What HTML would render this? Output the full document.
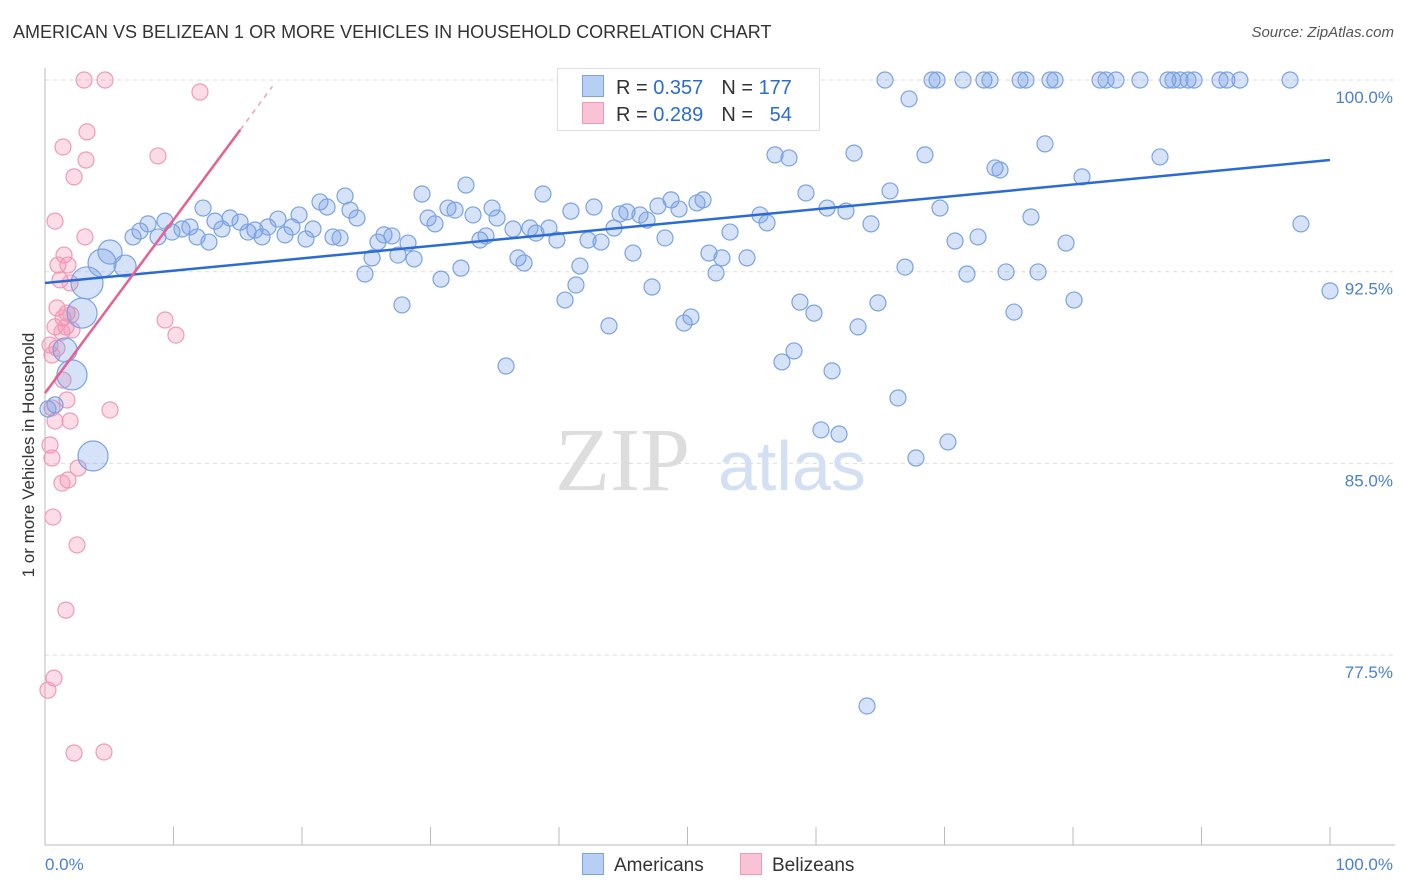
<!DOCTYPE html>
<html><head><meta charset="utf-8"><style>
body{margin:0;background:#fff;font-family:"Liberation Sans",sans-serif;}
#wrap{position:relative;width:1406px;height:892px;overflow:hidden;}
.t{position:absolute;white-space:nowrap;}
</style></head><body>
<div id="wrap">
<div class="t" style="left:13px;top:22px;font-size:18px;color:#333;">AMERICAN VS BELIZEAN 1 OR MORE VEHICLES IN HOUSEHOLD CORRELATION CHART</div>
<div class="t" style="right:12px;top:24px;font-size:15px;color:#555;font-style:italic;">Source: ZipAtlas.com</div>
<svg id="plot" width="1406" height="892" style="position:absolute;left:0;top:0"></svg>
</div>
<script>
const yTicks=[100,92.5,85,77.5];
const yTickLabels=["100.0%","92.5%","85.0%","77.5%"];
const xTickLabels=["0.0%","100.0%"];
const amerX=[3.27,2.88,2.10,3.74,1.56,4.44,5.06,6.23,6.85,7.39,8.02,8.79,9.34,9.88,10.66,11.28,11.83,12.30,12.76,13.23,13.77,14.40,15.18,15.80,16.34,16.89,17.35,18.13,18.68,19.22,19.77,20.31,20.86,21.40,21.95,22.41,22.96,23.35,23.74,24.28,24.90,25.45,25.91,26.38,27.00,27.47,27.78,28.25,28.72,29.34,29.81,30.35,30.82,31.36,31.91,32.37,32.76,33.31,33.85,34.32,34.79,35.18,35.88,36.42,36.81,37.28,37.74,38.21,38.75,39.22,39.84,40.47,40.93,41.32,41.63,42.26,42.72,43.27,43.89,44.28,44.75,45.29,45.76,46.30,46.85,47.24,47.70,48.25,48.72,49.34,49.73,50.27,50.74,51.21,51.67,52.22,52.68,53.31,53.85,54.24,54.63,55.25,55.64,56.19,56.81,57.35,57.90,58.29,58.75,59.22,59.84,60.39,60.86,61.25,61.79,62.33,62.96,63.27,63.97,64.28,64.82,65.37,65.76,66.38,66.93,67.24,67.78,68.48,69.03,69.42,69.65,70.27,70.82,71.44,71.75,72.61,73.07,73.54,73.93,74.32,74.79,75.41,75.88,76.34,76.73,77.28,77.82,78.21,78.60,79.46,80.08,80.70,82.10,82.57,83.35,85.21,86.77,87.39,87.78,88.33,88.95,89.42,91.44,91.98,92.99,96.89,97.74,100,0.78,0.23];
const amerY=[92.06,90.88,88.46,85.29,89.44,92.84,93.27,92.72,93.86,94.09,94.37,93.86,94.48,94.05,94.17,94.25,93.86,94.99,93.66,94.48,94.17,94.60,94.44,94.05,94.13,93.86,94.25,94.56,93.94,94.25,94.72,93.78,94.17,95.23,95.03,93.86,93.82,95.46,94.91,94.60,92.41,93.04,93.66,93.94,93.90,93.15,91.20,93.62,93.00,95.54,94.60,94.37,92.21,94.99,94.91,92.64,95.89,94.72,93.74,93.90,94.99,94.60,88.81,94.17,93.04,92.84,94.21,94.01,95.54,94.21,93.74,91.39,94.87,91.98,92.72,93.74,95.03,93.66,90.38,94.21,94.76,94.84,93.23,94.72,94.52,91.90,95.07,93.82,95.31,94.95,90.49,90.73,95.19,95.31,93.23,92.45,93.04,94.05,99.45,98.44,93.04,99.49,94.72,94.41,97.07,88.97,96.95,89.40,91.31,95.58,90.88,86.31,94.99,88.62,86.15,94.87,97.14,90.34,75.51,94.37,91.28,100,95.66,87.56,92.68,99.26,85.21,97.07,100,100,94.99,85.84,93.70,100,92.41,93.86,100,100,96.56,96.48,92.49,90.92,100,100,94.64,92.49,97.50,100,100,93.62,91.39,96.21,100,100,100,100,96.99,100,100,100,100,100,100,100,100,100,94.37,91.75,87.29,87.13];
const amerSize=[16,15,15,15,12,14,12,11];
const belX=[3.04,4.67,12.06,3.27,1.40,8.79,3.19,2.26,0.78,3.11,1.48,1.01,1.79,1.17,1.95,0.93,1.71,1.40,2.02,0.78,1.63,1.32,2.10,0.39,0.93,0.54,9.34,10.19,1.40,1.71,0.54,5.06,0.78,1.95,0.39,0.54,2.57,1.79,1.32,0.62,2.49,1.63,0.70,0.23,2.26,4.59];
const belY=[100,100,99.53,97.97,97.38,97.03,96.87,96.21,94.48,93.86,93.15,92.76,92.76,92.18,92.06,91.08,90.88,90.69,90.81,90.34,90.34,90.14,90.22,89.63,89.51,89.24,90.61,90.02,88.26,87.48,87.17,87.09,86.66,86.66,85.72,85.21,84.82,84.35,84.23,82.90,81.81,79.26,76.60,76.13,73.67,73.71];
const amerTrend=[92.06,96.87];
const belTrend=[87.75,0.678];

const X=v=>45+v*12.85;
const Y=v=>80+(100-v)*25.56;
const svg=document.getElementById('plot');
const NS='http://www.w3.org/2000/svg';
function mk(tag,attrs,parent){const e=document.createElementNS(NS,tag);for(const k in attrs)e.setAttribute(k,attrs[k]);(parent||svg).appendChild(e);return e;}

yTicks.forEach((v,i)=>{
 const g=mk('line',{x1:45,x2:1395,y1:Y(v),y2:Y(v),stroke:'#ddd','stroke-dasharray':'4,4'});
 
 
 const t=mk('text',{x:1393,y:Y(v)+23,'text-anchor':'end','font-size':17,fill:'#4a7fd6','font-family':'Liberation Sans'});
 t.textContent=yTickLabels[i];
 
 
});
const ax=mk('line',{x1:45,x2:45,y1:68,y2:845,stroke:'#bbb'});


const bx=mk('line',{x1:45,x2:1395,y1:845,y2:845,stroke:'#bbb'});


for(let i=0;i<=10;i++){
 const tk=mk('line',{x1:X(i*10),x2:X(i*10),y1:827,y2:845,stroke:'#bbb'});
 
 
}
[[0,'start',45],[100,'end',1393]].forEach((d,i)=>{
 const t=mk('text',{x:d[2],y:870,'text-anchor':d[1],'font-size':17,fill:'#4a7fd6','font-family':'Liberation Sans'});
 t.textContent=xTickLabels[i];
 
 
});
const yt=mk('text',{x:0,y:0,transform:'translate(34,455) rotate(-90)','text-anchor':'middle','font-size':17,fill:'#333','font-family':'Liberation Sans'});
yt.textContent='1 or more Vehicles in Household';


const w1=mk('text',{x:555,y:490,'font-size':90,fill:'#ddd','font-family':'Liberation Serif'});
w1.textContent='ZIP';


const w2=mk('text',{x:718,y:490,'font-size':70,fill:'#d3e0f3','font-family':'Liberation Sans'});
w2.textContent='atlas';



belX.forEach((v,i)=>{
 const c=mk('circle',{cx:X(v),cy:Y(belY[i]),r:8,fill:'rgba(244,143,177,0.3)',stroke:'#f09ab8','stroke-width':1.2});
 
 
});
amerX.forEach((v,i)=>{
 const c=mk('circle',{cx:X(v),cy:Y(amerY[i]),r:amerSize[i]||8,fill:'rgba(120,160,230,0.3)',stroke:'#7aa3e3','stroke-width':1.2});
 
 
});
const tl=mk('line',{x1:X(0),y1:Y(amerTrend[0]),x2:X(100),y2:Y(amerTrend[1]),stroke:'#2a6bd6','stroke-width':2.5});


const pl=mk('line',{x1:X(0),y1:Y(belTrend[0]),x2:X(15.2),y2:Y(belTrend[0]+belTrend[1]*15.2),stroke:'#e8608f','stroke-width':2.5});


const pd=mk('line',{x1:X(15.2),y1:Y(belTrend[0]+belTrend[1]*15.2),x2:X(17.7),y2:Y(belTrend[0]+belTrend[1]*17.7),stroke:'#f0a0bd','stroke-width':1.5,'stroke-dasharray':'5,5'});


</script>
<div class="t" style="left:557px;top:68px;width:261px;height:61px;border:1px solid #ddd;background:#fff;font-size:20px;">
 <div style="position:absolute;left:26px;top:6px;"><span style="display:inline-block;width:20px;height:20px;background:#b7cff3;border:1px solid #7aa3e3;vertical-align:-3px;margin-right:12px;margin-left:-2px"></span><span style="color:#333">R = </span><span style="color:#2a6bd6">0.357</span><span style="color:#333;margin-left:18px">N = </span><span style="color:#2a6bd6">177</span></div>
 <div style="position:absolute;left:26px;top:33px;"><span style="display:inline-block;width:20px;height:20px;background:#f9c3d5;border:1px solid #f09ab8;vertical-align:-3px;margin-right:12px;margin-left:-2px"></span><span style="color:#333">R = </span><span style="color:#2a6bd6">0.289</span><span style="color:#333;margin-left:18px">N = </span><span style="color:#2a6bd6">&nbsp;&nbsp;54</span></div>
</div>
<div class="t" style="left:582px;top:853px;font-size:19px;color:#333;"><span style="display:inline-block;width:20px;height:20px;background:#b7cff3;border:1px solid #7aa3e3;vertical-align:-4px;margin-right:10px"></span>Americans</div>
<div class="t" style="left:740px;top:853px;font-size:19px;color:#333;"><span style="display:inline-block;width:20px;height:20px;background:#f9c3d5;border:1px solid #f09ab8;vertical-align:-4px;margin-right:10px"></span>Belizeans</div>
</body></html>
